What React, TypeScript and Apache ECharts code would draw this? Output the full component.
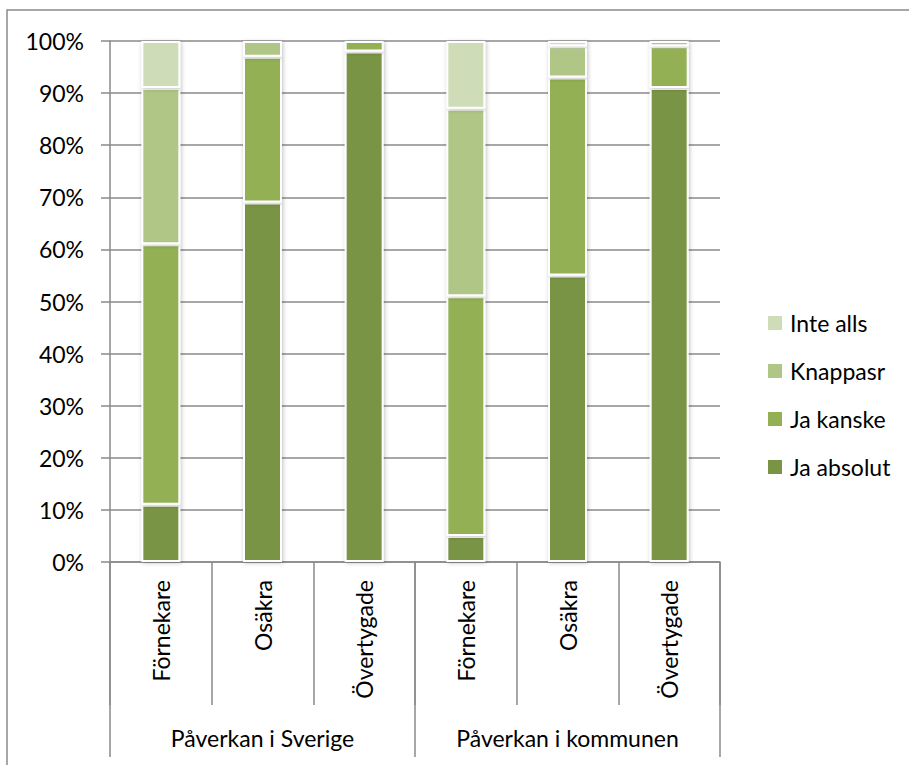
import React, { useEffect, useRef } from "react";
import * as echarts from "echarts";

const categories = ["Förnekare", "Osäkra", "Övertygade", "Förnekare", "Osäkra", "Övertygade"];
const groups = ["Påverkan i Sverige", "Påverkan i kommunen"];
const jaAbsolut = [11, 69, 98, 5, 55, 91];
const jaKanske = [50, 28, 2, 46, 38, 8];
const knappasr = [30, 3, 0, 36, 6, 1];
const inteAlls = [9, 0, 0, 13, 1, 0];
const legendOrder = ["Inte alls", "Knappasr", "Ja kanske", "Ja absolut"];

const FONT = "Lato";
const LINE = "#8a8a8a";

export default function App() {
  const ref = useRef<HTMLDivElement>(null);
  useEffect(() => {
    if (!ref.current) return;
    const chart = echarts.init(ref.current, undefined, { renderer: "svg" });
    const barStyle = (color: string) => ({
      color,
      borderColor: "#ffffff",
      borderWidth: 2,
      shadowBlur: 4,
      shadowColor: "rgba(0,0,0,0.25)",
      shadowOffsetX: 1,
      shadowOffsetY: 1,
    });
    const mk = (name: string, data: number[], color: string) => ({
      name,
      type: "bar",
      stack: "total",
      barWidth: 39,
      data,
      itemStyle: barStyle(color),
    });
    chart.setOption({
      animation: false,
      backgroundColor: "#ffffff",
      textStyle: { fontFamily: FONT },
      graphic: [
        {
          type: "rect",
          shape: { x: 7, y: 10, width: 1000, height: 1000 },
          style: { fill: "none", stroke: LINE, lineWidth: 1.5 },
          silent: true,
        },
      ],
      grid: { left: 110, right: 189, top: 41, bottom: 203, containLabel: false },
      legend: {
        orient: "vertical",
        left: 763,
        top: 306,
        itemWidth: 14,
        itemHeight: 14,
        itemGap: 24,
        icon: "rect",
        data: legendOrder,
        itemStyle: { borderWidth: 0, shadowBlur: 0, shadowOffsetX: 0, shadowOffsetY: 0 },
        textStyle: { fontFamily: FONT, fontSize: 23, color: "#000", lineHeight: 24, padding: [0, 0, 0, 3] },
      },
      xAxis: [
        {
          type: "category",
          data: categories,
          position: "bottom",
          axisLine: { show: true, lineStyle: { color: LINE, width: 1.5 } },
          axisTick: { show: true, length: 143, interval: 0, alignWithLabel: false, lineStyle: { color: LINE, width: 1.5 } },
          axisLabel: { interval: 0, rotate: 90, margin: 18, fontFamily: FONT, fontSize: 23, color: "#000" },
          splitLine: { show: false },
        },
        {
          type: "category",
          data: groups,
          position: "bottom",
          axisLine: { show: false },
          axisTick: { show: true, length: 195, interval: 0, alignWithLabel: false, lineStyle: { color: LINE, width: 1.5 } },
          axisLabel: { interval: 0, margin: 164, fontFamily: FONT, fontSize: 23, color: "#000" },
          splitLine: { show: false },
        },
      ],
      yAxis: {
        type: "value",
        min: 0,
        max: 100,
        interval: 10,
        axisLine: { show: true, lineStyle: { color: LINE, width: 1.5 } },
        axisTick: { show: true, length: 9, lineStyle: { color: LINE, width: 1.5 } },
        axisLabel: { formatter: "{value}%", margin: 26, fontFamily: FONT, fontSize: 23, color: "#000" },
        splitLine: { show: true, lineStyle: { color: LINE, width: 1.5 } },
      },
      series: [
        mk("Ja absolut", jaAbsolut, "#7a9445"),
        mk("Ja kanske", jaKanske, "#93b055"),
        mk("Knappasr", knappasr, "#afc686"),
        mk("Inte alls", inteAlls, "#cfdcb8"),
      ],
    });
    return () => chart.dispose();
  }, []);
  return (
    <div
      ref={ref}
      style={{ position: "fixed", left: 0, top: 0, width: 909, height: 765 }}
    />
  );
}
